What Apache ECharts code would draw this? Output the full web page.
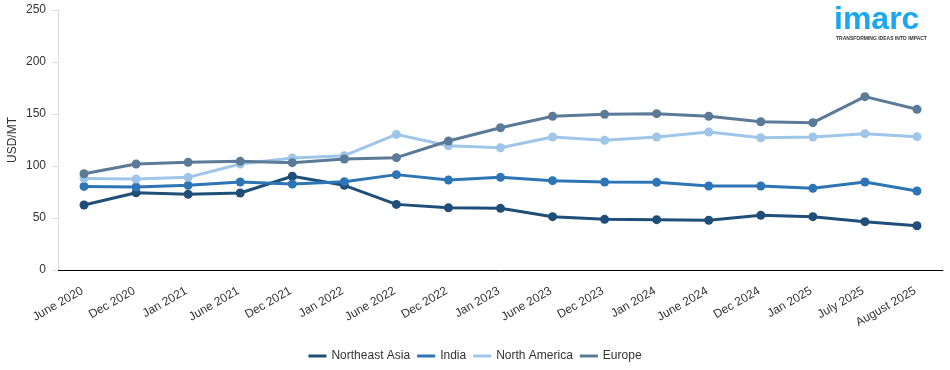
<!DOCTYPE html>
<html>
<head>
<meta charset="utf-8">
<script src="https://cdn.jsdelivr.net/npm/echarts@6/dist/echarts.min.js"></script>
<style>
html,body{margin:0;padding:0;background:#fff;}
#chart{width:950px;height:370px;}
</style>
</head>
<body>
<div id="chart"></div>
<script>
const categories = ["June 2020","Dec 2020","Jan 2021","June 2021","Dec 2021","Jan 2022","June 2022","Dec 2022","Jan 2023","June 2023","Dec 2023","Jan 2024","June 2024","Dec 2024","Jan 2025","July 2025","August 2025"];
const northeastAsia = [62.5,74.3,72.8,74.0,90.1,81.4,63.1,59.9,59.3,51.3,48.7,48.4,47.8,52.6,51.3,46.5,42.6];
const india = [80.4,79.8,81.4,84.6,82.7,84.9,91.7,86.5,89.1,85.9,84.6,84.3,80.8,80.8,78.5,84.6,76.0];
const northAmerica = [88.1,87.5,89.1,101.9,107.7,109.9,130.4,119.5,117.6,127.9,124.7,127.9,132.7,127.2,127.9,131.1,128.2];
const europe = [92.6,101.9,103.5,104.5,103.2,106.7,108.0,124.0,136.8,147.8,149.7,150.3,147.8,142.6,141.7,166.7,154.5];
const seriesNames = ["Northeast Asia","India","North America","Europe"];
const seriesColors = ["#1f4e79","#2e75b6","#9fc5e8","#5a7a98"];
const seriesData = [northeastAsia, india, northAmerica, europe];

const chart = echarts.init(document.getElementById('chart'));
chart.setOption({
  animation: false,
  backgroundColor: '#fff',
  textStyle: { fontFamily: 'Liberation Sans, Arial, sans-serif' },
  grid: { left: 58, right: 7, top: 10, bottom: 100, containLabel: false, outerBoundsMode: 'none' },
  legend: {
    top: 345,
    left: 'center',
    icon: 'rect',
    itemWidth: 18,
    itemHeight: 3,
    itemGap: 7,
    textStyle: { fontSize: 12, color: '#333' },
    data: seriesNames
  },
  xAxis: {
    type: 'category',
    data: categories,
    boundaryGap: true,
    axisLine: { lineStyle: { color: '#000', width: 1 } },
    axisTick: { alignWithLabel: true, length: 8, lineStyle: { color: '#000' } },
    axisLabel: { rotate: 30, fontSize: 12, color: '#333', margin: 19, padding: [0, 2, 0, 0], interval: 0 }
  },
  yAxis: {
    type: 'value',
    min: 0, max: 250, interval: 50,
    name: 'USD/MT',
    nameLocation: 'middle',
    nameGap: 39,
    nameMoveOverlap: false,
    nameTextStyle: { fontSize: 12, color: '#333' },
    axisLine: { show: true, lineStyle: { color: '#ddd' } },
    axisTick: { show: true, length: 6, lineStyle: { color: '#ddd' } },
    splitLine: { show: false },
    axisLabel: { fontSize: 12, color: '#333', margin: 12 }
  },
  series: seriesNames.map((n, i) => ({
    name: n,
    type: 'line',
    data: seriesData[i],
    symbol: 'circle',
    symbolSize: 9,
    lineStyle: { width: 3, color: seriesColors[i] },
    itemStyle: { color: seriesColors[i] }
  })),
  graphic: [
    { type: 'text', left: 834, top: 4, style: { text: 'imarc', font: 'bold 32px "Liberation Sans", Arial, sans-serif', fill: '#1aa7ee' } },
    { type: 'text', left: 836, top: 36, style: { text: 'TRANSFORMING IDEAS INTO IMPACT', font: 'bold 5px "Liberation Sans", Arial, sans-serif', fill: '#333' } }
  ]
});
</script>
</body>
</html>
